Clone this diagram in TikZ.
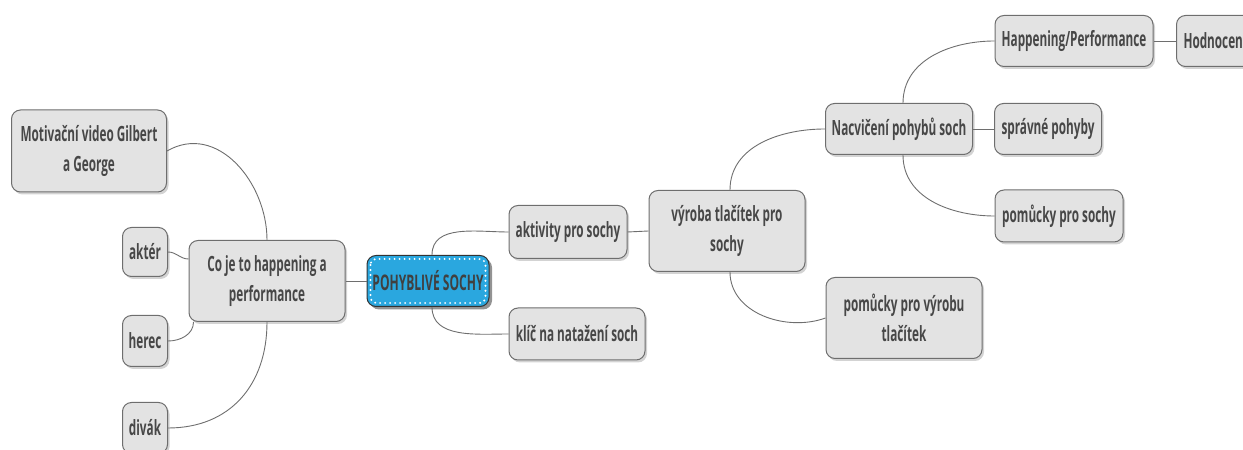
\documentclass[tikz,border=0pt]{standalone}
\usepackage{fontspec}
\setmainfont{Open Sans}[FakeStretch=0.56]
\usetikzlibrary{shadows}
\definecolor{boxfill}{HTML}{E3E3E3}
\definecolor{boxline}{HTML}{6E6E6E}
\definecolor{boxtext}{HTML}{474747}
\definecolor{rootblue}{HTML}{2AA7DF}
\begin{document}
\begin{tikzpicture}[x=1pt,y=1pt,
  topic/.style={draw=boxline, line width=1pt, fill=boxfill, rounded corners=9pt, text=boxtext,
    font=\fontsize{21}{30}\selectfont\bfseries, align=center, inner sep=4pt,
    drop shadow={opacity=0.35, shadow xshift=2pt, shadow yshift=-2.5pt}},
  root/.style={draw=black!80, line width=1pt, fill=rootblue, rounded corners=9pt, text=black!75,
    font=\fontsize{21.5}{26}\selectfont\bfseries, align=center, inner sep=2pt,
    drop shadow={opacity=0.85, shadow xshift=3pt, shadow yshift=-3pt}},
  link/.style={draw=boxline, line width=0.9pt}]
\useasboundingbox (0,0) rectangle (1243,450);
\clip (0,0) rectangle (1243,450);

\node[root, minimum width=122, minimum height=51] (root) at (428,169) {POHYBLIVÉ SOCHY};
\draw[white, line width=2.2pt, dash pattern=on 0pt off 5pt, line cap=round, rounded corners=6pt]
  ([shift={(4pt,-4pt)}]root.north west) rectangle ([shift={(-4pt,4pt)}]root.south east);

\node[topic, minimum width=156, minimum height=81] (co) at (267,169) {Co je to happening a\\performance};
\node[topic, minimum width=155, minimum height=82] (moti) at (89,299) {Motivační video Gilbert\\a George};
\node[topic, minimum width=45, minimum height=49] (akter) at (145,198) {aktér};
\node[topic, minimum width=45, minimum height=51] (herec) at (145,109) {herec};
\node[topic, minimum width=45, minimum height=51] (divak) at (145,22) {divák};

\node[topic, minimum width=118, minimum height=53] (aktiv) at (568,218) {aktivity pro sochy};
\node[topic, minimum width=136, minimum height=52] (klic) at (577,116) {klíč na natažení soch};
\node[topic, minimum width=156, minimum height=81] (vyroba) at (727,219) {výroba tlačítek pro\\sochy};
\node[topic, minimum width=156, minimum height=81] (pomvyr) at (904,132) {pomůcky pro výrobu\\tlačítek};
\node[topic, minimum width=147, minimum height=51] (nacvik) at (899,321) {Nacvičení pohybů soch};
\node[topic, minimum width=158, minimum height=51] (happ) at (1074,409) {Happening/Performance};
\node[topic, minimum height=51, inner xsep=7pt, anchor=west] (hodn) at (1176,409) {Hodnocení};
\node[topic, minimum width=107, minimum height=51] (sprav) at (1048,321) {správné pohyby};
\node[topic, minimum width=128, minimum height=52] (pomsoch) at (1059,234) {pomůcky pro sochy};

\draw[link] (co.east) -- (root.west);
\draw[link] (co.north) to[out=90,in=30,looseness=1.1] (moti.east);
\draw[link] ([yshift=22pt]co.west) to[out=180,in=0] (akter.east);
\draw[link] ([xshift=5pt]co.south west) to[out=-90,in=0] (herec.east);
\draw[link] (co.south) to[out=-90,in=0,looseness=1.1] (divak.east);

\draw[link] ([xshift=4pt]root.north) to[out=90,in=180] (aktiv.west);
\draw[link] ([xshift=4pt]root.south) to[out=-90,in=180] (klic.west);
\draw[link] (aktiv.east) -- (vyroba.west);
\draw[link] ([xshift=3pt]vyroba.north) to[out=90,in=180] (nacvik.west);
\draw[link] ([xshift=3pt]vyroba.south) to[out=-90,in=200] (pomvyr.west);
\draw[link] ([xshift=4pt]nacvik.north) to[out=90,in=180] (happ.west);
\draw[link] (nacvik.east) -- (sprav.west);
\draw[link] ([xshift=4pt]nacvik.south) to[out=-90,in=180] (pomsoch.west);
\draw[link] (happ.east) -- (hodn.west);
\end{tikzpicture}
\end{document}
